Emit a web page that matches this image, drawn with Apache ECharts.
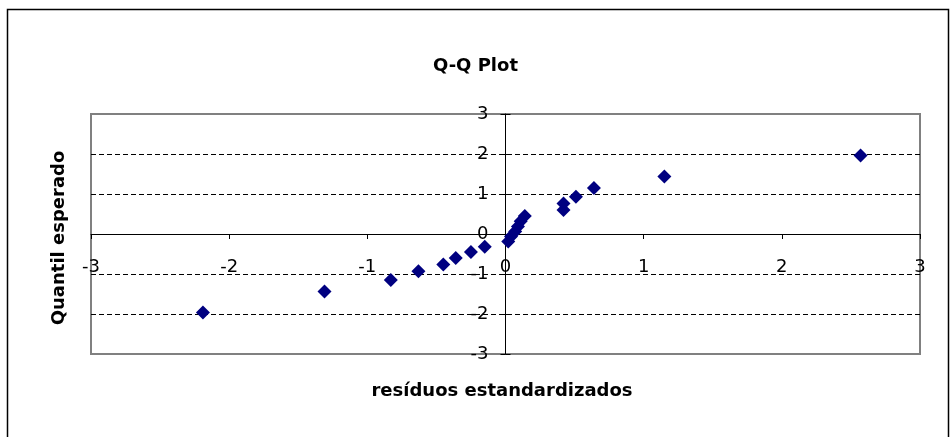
<!DOCTYPE html>
<html>
<head>
<meta charset="utf-8">
<title>Q-Q Plot</title>
<script src="https://cdn.jsdelivr.net/npm/echarts@6/dist/echarts.min.js"></script>
<style>
  html, body { margin: 0; padding: 0; background: #fff; }
  #chart { width: 951px; height: 437px; }
</style>
</head>
<body>
<div id="chart"></div>
<script>
// standardized residuals (x) and expected normal quantiles (y)
const residuals = [-2.19, -1.31, -0.83, -0.63, -0.45, -0.36, -0.25, -0.15, 0.02, 0.04,
  0.07, 0.09, 0.11, 0.14, 0.42, 0.42, 0.51, 0.64, 1.15, 2.57]
const expected = [-1.96, -1.44, -1.15, -0.93, -0.76, -0.60, -0.45, -0.32, -0.19, -0.06,
  0.06, 0.19, 0.32, 0.45, 0.60, 0.76, 0.93, 1.15, 1.44, 1.96]
const axisMin = -3
const axisMax = 3
const tickStep = 1

const chart = echarts.init(document.getElementById('chart'))
const font = 'DejaVu Sans'

// plot box
const gridLeft = 91
const gridRight = 31
const gridTop = 114
const gridBottom = 83
const plotW = 951 - gridLeft - gridRight
const plotH = 437 - gridTop - gridBottom

// axes cross in the middle of the box (0 is the centre of -3..3),
// so move them in with a negative offset
const xOffset = -plotH / 2
const yOffset = -plotW / 2

chart.setOption({
  animation: false,
  backgroundColor: '#fff',
  grid: {
    left: gridLeft,
    right: gridRight,
    top: gridTop,
    bottom: gridBottom,
    show: true,
    borderColor: '#808080',
    borderWidth: 2,
    backgroundColor: 'transparent'
  },
  xAxis: {
    type: 'value',
    min: axisMin,
    max: axisMax,
    interval: tickStep,
    offset: xOffset,
    axisLine: { onZero: false, lineStyle: { color: '#000', width: 1 } },
    axisTick: { show: true, length: 5, lineStyle: { color: '#000' } },
    axisLabel: { color: '#000', fontFamily: font, fontSize: 18, margin: 24 },
    splitLine: { show: false }
  },
  yAxis: [{
    type: 'value',
    min: axisMin,
    max: axisMax,
    interval: tickStep,
    position: 'left',
    offset: yOffset,
    axisLine: { onZero: false, lineStyle: { color: '#000', width: 1 } },
    axisTick: { show: true, length: 5, lineStyle: { color: '#000' } },
    axisLabel: { color: '#000', fontFamily: font, fontSize: 18, margin: 17 },
    splitLine: {
      show: true,
      lineStyle: {
        color: ['#808080', '#000', '#000', '#000', '#000', '#000', '#808080'],
        type: [5, 3],
        width: 1
      }
    }
  }, {
    // inner half of the cross ticks on the vertical axis
    type: 'value',
    min: axisMin,
    max: axisMax,
    interval: tickStep,
    position: 'left',
    offset: yOffset,
    axisLine: { show: false, onZero: false },
    axisTick: { show: true, inside: true, length: 5, lineStyle: { color: '#000' } },
    axisLabel: { show: false },
    splitLine: { show: false }
  }],
  graphic: [{
    type: 'rect',
    silent: true,
    shape: { x: 7.5, y: 9.5, width: 941, height: 450 },
    style: { fill: 'none', stroke: '#000', lineWidth: 1.5 }
  }, {
    type: 'text',
    left: 'center',
    top: 57,
    style: { text: 'Q-Q Plot', font: 'bold 18px DejaVu Sans', fill: '#000' }
  }, {
    type: 'text',
    x: 502,
    y: 391,
    style: {
      text: 'resíduos estandardizados',
      font: 'bold 18px DejaVu Sans',
      fill: '#000',
      align: 'center',
      verticalAlign: 'middle'
    }
  }, {
    type: 'text',
    x: 59,
    y: 238,
    rotation: Math.PI / 2,
    style: {
      text: 'Quantil esperado',
      font: 'bold 18px DejaVu Sans',
      fill: '#000',
      align: 'center',
      verticalAlign: 'middle'
    }
  }],
  series: [{
    type: 'scatter',
    symbol: 'diamond',
    symbolSize: 14,
    itemStyle: { color: '#000080', opacity: 1 },
    data: residuals.map((x, i) => [x, expected[i]])
  }]
})
</script>
</body>
</html>
